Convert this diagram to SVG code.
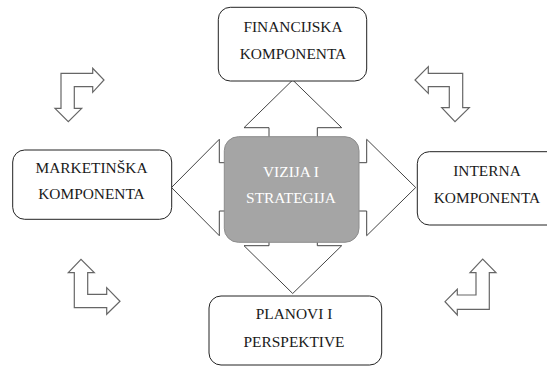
<svg xmlns="http://www.w3.org/2000/svg" width="547" height="367" viewBox="0 0 547 367">
<style>
.box{fill:#fff;stroke:#222;stroke-width:1}
.t{font-family:'Liberation Serif','DejaVu Serif',serif;font-size:15.4px;fill:#1a1a1a;text-anchor:middle}
.tw{font-family:'Liberation Serif','DejaVu Serif',serif;font-size:15.4px;fill:#fff;text-anchor:middle}
.big{fill:#fff;stroke:#444;stroke-width:1;stroke-linejoin:miter}
.bent{fill:#fff;stroke:#666;stroke-width:1.2;stroke-linejoin:miter}
</style>
<rect width="547" height="367" fill="#fff"/>
<g id="connectors">
<polygon class="big" points="292.7,80 341.7,127.7 317.3,127.7 317.3,142 269,142 269,127.7 244,127.7"/>
<polygon class="big" points="269,236 317.3,236 317.3,245.7 341.7,245.7 292.7,293.5 244,245.7 269,245.7"/>
<polygon class="big" points="230,162.7 219.3,162.7 219.3,139.3 171.5,187.5 219.3,235.7 219.3,211 230,211"/>
<polygon class="big" points="353,162.7 366.7,162.7 366.7,139.3 415.7,187.5 366.7,235.7 366.7,211 353,211"/>
<polygon class="bent" points="61,73.3 92.7,73.3 92.7,68.3 104,80 92.7,92.3 92.7,86.7 74.3,86.7 74.3,108.3 81.7,108.3 68.3,121.7 55,108.3 61,108.3"/>
<polygon class="bent" points="462.7,73.3 428.3,73.3 428.3,66.7 415,80 428.3,93.3 428.3,86.7 449.3,86.7 449.3,107.7 441.7,107.7 455,121.7 469.3,107.7 462.7,107.7"/>
<polygon class="bent" points="74.3,307.7 106.7,307.7 106.7,314.3 120,301.3 106.7,287.7 106.7,294.3 87.7,294.3 87.7,272.7 94.3,272.7 81,259.3 68.3,272.7 74.3,272.7"/>
<polygon class="bent" points="489.3,309.3 457.3,309.3 457.3,315 445,301.7 457.3,289.3 457.3,295 476,295 476,272.7 470,272.7 482.7,259 496,272.7 489.3,272.7"/>
</g>
<g id="vizija">
<rect x="224.3" y="136.7" width="134.7" height="105.6" rx="14" fill="#a5a5a5" stroke="#8c8c8c" stroke-width="1"/>
<text class="tw" x="291" y="177">VIZIJA I</text>
<text class="tw" x="291" y="203">STRATEGIJA</text>
</g>
<g id="financijska">
<rect class="box" x="218.3" y="7.3" width="148.4" height="73.7" rx="12"/>
<text class="t" x="293" y="32.3">FINANCIJSKA</text>
<text class="t" x="293" y="59">KOMPONENTA</text>
</g>
<g id="marketinska">
<rect class="box" x="12.7" y="150" width="159" height="69.3" rx="12"/>
<text class="t" x="91.5" y="173.3">MARKETINŠKA</text>
<text class="t" x="91.5" y="199.3">KOMPONENTA</text>
</g>
<g id="interna">
<rect class="box" x="417.3" y="151.7" width="150" height="73.3" rx="12"/>
<text class="t" x="487" y="176">INTERNA</text>
<text class="t" x="487" y="202.7">KOMPONENTA</text>
</g>
<g id="planovi">
<rect class="box" x="209" y="296" width="172.7" height="69" rx="12"/>
<text class="t" x="294" y="319.3">PLANOVI I</text>
<text class="t" x="294" y="346.7">PERSPEKTIVE</text>
</g>
</svg>
